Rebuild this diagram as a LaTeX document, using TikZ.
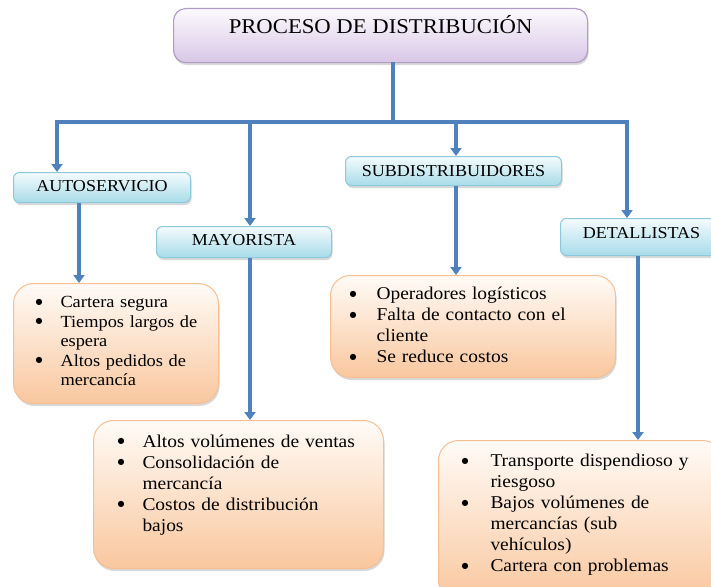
\documentclass[tikz,border=0pt]{standalone}
\usepackage{fontspec}
\setmainfont[FakeStretch=1.08]{Liberation Serif}
\newfontfamily\dotfont{DejaVu Sans}
\usetikzlibrary{arrows.meta,shadows}
\definecolor{linkc}{HTML}{4F81BD}
\definecolor{headtop}{HTML}{FCFAFD}
\definecolor{headbot}{HTML}{D8C7E6}
\definecolor{headline}{HTML}{B19CC6}
\definecolor{cattop}{HTML}{F4FBFD}
\definecolor{catbot}{HTML}{A8DBE9}
\definecolor{catline}{HTML}{8CC9DA}
\definecolor{listtop}{HTML}{FFFBF7}
\definecolor{listbot}{HTML}{F9C79E}
\definecolor{listline}{HTML}{F7BE92}
\newcommand{\bigdot}{\raisebox{3.2pt}{\dotfont\fontsize{8}{8}\selectfont ●}}
\newcommand{\bulletlist}[2]{\begin{tabular}[t]{@{}p{#1}@{}l@{}}#2\end{tabular}}
\tikzset{
  basebox/.style={rectangle, inner sep=0pt, text=black,
    drop shadow={shadow xshift=1pt, shadow yshift=-2.5pt, opacity=0.3}},
  headbox/.style={basebox, rounded corners=12pt, draw=headline, line width=1.2pt,
    top color=headtop, bottom color=headbot, font=\fontsize{21}{25}\selectfont},
  catbox/.style={basebox, rounded corners=6pt, draw=catline, line width=1pt,
    top color=cattop, bottom color=catbot, font=\fontsize{16.7}{20}\selectfont},
  listbox/.style={basebox, rounded corners=20pt, draw=listline, line width=1pt,
    top color=listtop, bottom color=listbot, align=left,
    font=\fontsize{18}{21}\selectfont},
  flowline/.style={draw=linkc, line width=3.4pt, line cap=rect},
  flowarrow/.style={-{Triangle[width=11pt,length=8pt]}, draw=linkc, line width=3.4pt},
}
\begin{document}
\begin{tikzpicture}[x=1pt, y=-1pt]
  \path[use as bounding box] (0,0) rectangle (711,586);
  \clip (0,0) rectangle (711,586);

  % head and the four channels
  \node[headbox, anchor=north west, minimum width=414pt, text height=25pt, text depth=29pt]
    (proceso) at (173,8) {PROCESO DE DISTRIBUCIÓN};
  \node[catbox, anchor=north west, minimum width=177pt, text height=19pt, text depth=11pt]
    (autoservicio) at (13,172) {AUTOSERVICIO};
  \node[catbox, anchor=north west, minimum width=175pt, text height=19pt, text depth=12pt]
    (mayorista) at (156,226) {MAYORISTA};
  \node[catbox, anchor=north west, minimum width=216pt, text height=20pt, text depth=9pt]
    (subdistribuidores) at (345,156) {SUBDISTRIBUIDORES};
  \node[catbox, anchor=north west, minimum width=162pt, text height=20pt, text depth=17pt]
    (detallistas) at (560,218) {DETALLISTAS};

  % lists
  \node[listbox, anchor=north west, inner xsep=22pt, text width=161pt,
    text height=24pt, text depth=96pt, font=\fontsize{17}{19.5}\selectfont]
    (autolist) at (13,283) {\bulletlist{25pt}{%
      \bigdot & Cartera segura\\
      \bigdot & Tiempos largos de\\
              & espera\\
      \bigdot & Altos pedidos de\\
              & mercancía}};
  \node[listbox, anchor=north west, inner xsep=24pt, text width=242pt,
    text height=26.5pt, text depth=121.5pt]
    (mayorlist) at (93,420) {\bulletlist{25pt}{%
      \bigdot & Altos volúmenes de ventas\\
      \bigdot & Consolidación de\\
              & mercancía\\
      \bigdot & Costos de distribución\\
              & bajos}};
  \node[listbox, anchor=north west, inner xsep=19pt, text width=247pt,
    text height=24pt, text depth=78pt]
    (subdistlist) at (330,275) {\bulletlist{27pt}{%
      \bigdot & Operadores logísticos\\
      \bigdot & Falta de contacto con el\\
              & cliente\\
      \bigdot & Se reduce costos}};
  \node[listbox, anchor=north west, inner xsep=23pt, text width=238pt,
    text height=26pt, text depth=134pt]
    (detallist) at (438,440) {\bulletlist{29pt}{%
      \bigdot & Transporte dispendioso y\\
              & riesgoso\\
      \bigdot & Bajos volúmenes de\\
              & mercancías (sub\\
              & vehículos)\\
      \bigdot & Cartera con problemas}};

  % bus from the head
  \coordinate (hub) at (393,122);
  \coordinate (busA) at (57,122);
  \coordinate (busM) at (250,122);
  \coordinate (busS) at (456,122);
  \coordinate (busD) at (627,122);
  \draw[flowline] (hub |- proceso.south) -- (hub);
  \draw[flowline] (busA) -- (busD);
  \draw[flowarrow] (busA) -- (busA |- autoservicio.north);
  \draw[flowarrow] (busM) -- (busM |- mayorista.north);
  \draw[flowarrow] (busS) -- (busS |- subdistribuidores.north);
  \draw[flowarrow] (busD) -- (busD |- detallistas.north);

  % channel to list
  \coordinate (outA) at (79,0);
  \coordinate (outM) at (250,0);
  \coordinate (outS) at (456,0);
  \coordinate (outD) at (638,0);
  \draw[flowarrow] (outA |- autoservicio.south) -- (outA |- autolist.north);
  \draw[flowarrow] (outM |- mayorista.south) -- (outM |- mayorlist.north);
  \draw[flowarrow] (outS |- subdistribuidores.south) -- (outS |- subdistlist.north);
  \draw[flowarrow] (outD |- detallistas.south) -- (outD |- detallist.north);
\end{tikzpicture}
\end{document}
